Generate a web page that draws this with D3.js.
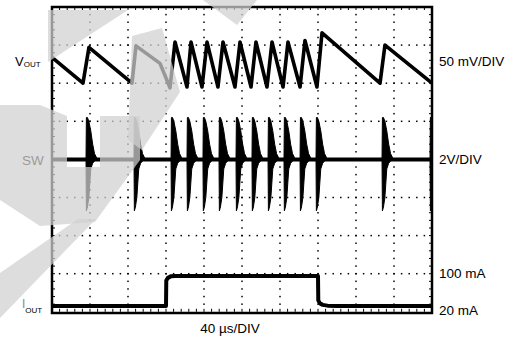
<!DOCTYPE html>
<html><head><meta charset="utf-8">
<script src="https://cdn.jsdelivr.net/npm/d3@7"></script>
<style>body{margin:0;background:#fff}svg{display:block}text{font-family:"Liberation Sans",Arial,Helvetica,sans-serif}</style>
</head><body><svg id="c" width="522" height="339"></svg>
<script>
// ---- data (time in µs, 40 µs/div) ----
const voutTime = [0, 32.6, 38.9, 84.2, 88.4, 113.7, 124.2, 129.5, 142.1, 146.3, 157.9, 163.2, 174.7, 180.0, 192.6, 197.9, 209.5, 214.7, 226.3, 231.6, 243.2, 248.4, 261.1, 266.3, 278.9, 284.2, 345.3, 350.5, 400];
const voutMv   = [34, 0, 47, 0, 49, 26, -6, 54, -5, 54, -5, 54, -5, 54, -5, 54, -5, 54, -5, 54, -5, 54, -5, 56, -5, 66, 0, 50, 0];
const swPulseTime = [35.8, 86.3, 125.3, 142.1, 158.9, 175.8, 193.7, 210.5, 227.4, 244.2, 261.1, 277.9, 347.4, 397.9];
const pulseDt  = [0, 0.4, 1.5, 3, 5, 7, 9, 11, 13];
const pulseHiV = [0, 2.2, 2.2, 2.0, 1.5, 0.8, 0.3, 0.1, 0];
const pulseLoV = [0, -2.7, -2.5, -2.0, -0.5, -0.2, -0.08, 0, 0];
const ioutTime = [0, 120, 120.3, 122, 125, 130, 280, 280.3, 282, 285, 290, 300, 400];
const ioutMa   = [20, 20, 88, 95, 99, 100, 100, 35, 27, 23, 21, 20, 20];
const rightLabels = ["50 mV/DIV", "2V/DIV", "100 mA", "20 mA"];
const timeLabel = "40 µs/DIV";

const svg = d3.select("#c");
const x = d3.scaleLinear().domain([0, 400]).range([52, 432]);
const y = d3.scaleLinear().domain([0, 8]).range([311.8, 7]); // divisions
const voutDiv = mv => 6 + mv / 50;
const swDiv = v => 4 + v / 2;
const ioutDiv = d3.scaleLinear().domain([20, 100]).range([0.152, 0.94]);

// grid dots
const g = svg.append("g");
const dx = (x(400) - x(0)) / 50, dy = (y(0) - y(8)) / 40;
for (let k = 1; k < 10; k++) {
  const gx = x(k * 40);
  d3.range(1, 40).forEach(i => g.append("rect").attr("x", gx - 0.75).attr("y", y(8) + i * dy - 0.75).attr("width", 1.5).attr("height", 1.5).attr("fill", "#000"));
}
for (let k = 1; k < 8; k++) {
  const gy = y(k);
  d3.range(1, 50).forEach(i => g.append("rect").attr("x", x(0) + i * dx - 0.75).attr("y", gy - 0.75).attr("width", 1.5).attr("height", 1.5).attr("fill", "#000"));
}
// frame ticks
d3.range(1, 40).forEach(i => {
  const ty = y(8) + i * dy;
  g.append("line").attr("x1", x(0)).attr("x2", x(0) + 3).attr("y1", ty).attr("y2", ty).attr("stroke", "#000");
  g.append("line").attr("x1", x(400) - 3).attr("x2", x(400)).attr("y1", ty).attr("y2", ty).attr("stroke", "#000");
});
d3.range(1, 50).forEach(i => {
  const tx = x(0) + i * dx;
  g.append("line").attr("x1", tx).attr("x2", tx).attr("y1", y(8)).attr("y2", y(8) + 3).attr("stroke", "#000");
  g.append("line").attr("x1", tx).attr("x2", tx).attr("y1", y(0) - 3).attr("y2", y(0)).attr("stroke", "#000");
});

// Vout trace
const vIdx = d3.range(voutTime.length);
svg.append("path").attr("fill", "none").attr("stroke", "#000").attr("stroke-width", 3.6).attr("stroke-linejoin", "round")
  .attr("d", d3.line().x(i => x(voutTime[i])).y(i => y(voutDiv(voutMv[i])))(vIdx));

// SW baseline
svg.append("line").attr("x1", x(0)).attr("x2", x(400)).attr("y1", y(swDiv(0))).attr("y2", y(swDiv(0))).attr("stroke", "#000").attr("stroke-width", 4);
// SW pulses (envelope of ringing)
const pIdx = d3.range(pulseDt.length);
swPulseTime.forEach(t0 => {
  svg.append("path").attr("fill", "#000").attr("stroke", "#000").attr("stroke-width", 1)
    .attr("d", d3.area().x(i => x(Math.min(400, t0 + pulseDt[i]))).y0(i => y(swDiv(pulseLoV[i]))).y1(i => y(swDiv(pulseHiV[i])))(pIdx));
});

// Iout trace
const iIdx = d3.range(ioutTime.length);
svg.append("path").attr("fill", "none").attr("stroke", "#000").attr("stroke-width", 4).attr("stroke-linejoin", "round")
  .attr("d", d3.line().x(i => x(ioutTime[i])).y(i => y(ioutDiv(ioutMa[i])))(iIdx));

// frame
svg.append("rect").attr("x", x(0)).attr("y", y(8)).attr("width", x(400) - x(0)).attr("height", 313 - y(8))
  .attr("fill", "none").attr("stroke", "#000").attr("stroke-width", 2.5);

// labels
const lab = svg.append("g").attr("font-size", 13.5).attr("fill", "#000");
const rightY = [y(voutDiv(0)) - 17, y(swDiv(0)) + 5, y(ioutDiv(100)) + 2, y(ioutDiv(20)) + 9];
rightLabels.forEach((s, i) => lab.append("text").attr("x", 439).attr("y", rightY[i]).text(s));
lab.append("text").attr("x", 230).attr("y", 333).attr("text-anchor", "middle").text(timeLabel);
const v = lab.append("text").attr("x", 15).attr("y", 66);
v.append("tspan").attr("font-size", 13).text("V");
v.append("tspan").attr("font-size", 8).attr("dy", 1).text("OUT");
lab.append("text").attr("x", 22).attr("y", 165).text("SW");
const io = lab.append("text").attr("x", 22).attr("y", 308);
io.append("tspan").attr("font-size", 12).attr("fill", "#888").text("I");
io.append("tspan").attr("font-size", 8).attr("dy", 5).text("OUT");

// translucent watermark overlay (page decoration, not data)
const wm = [
  [[132,36],[162,28],[180,92],[142,150],[128,140]],
  [[0,105],[40,105],[67,116],[67,167],[100,167],[100,116],[140,116],[140,160],[95,222],[40,226],[0,200]],
  [[0,273],[78,219],[96,219],[0,318]],
  [[48,10],[128,10],[48,62]],
  [[203,0],[257,0],[237,25]]
];
svg.append("g").selectAll("path").data(wm).join("path")
  .attr("d", p => "M" + p.map(q => q.join(",")).join("L") + "Z")
  .attr("fill", "rgb(209,209,209)").attr("fill-opacity", 0.73);
</script></body></html>
